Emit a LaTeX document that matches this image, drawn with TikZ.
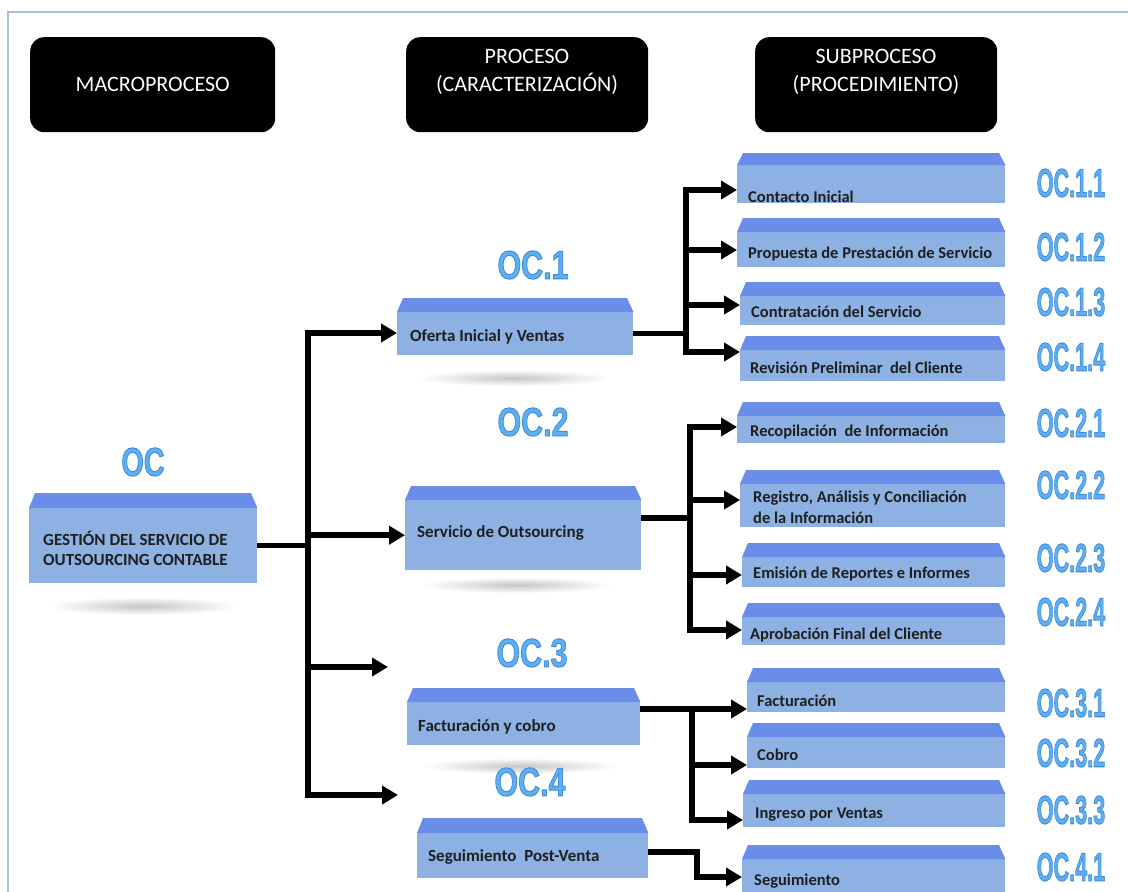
\documentclass[tikz,border=0pt]{standalone}
\usepackage{fontspec}
\setmainfont{Carlito}
\newfontfamily\codefont{Liberation Sans}
\usepackage{graphicx}
\usetikzlibrary{arrows.meta}
\definecolor{bodyc}{HTML}{8DB1E3}
\definecolor{roofc}{HTML}{6A8DE9}
\definecolor{codec}{HTML}{5AB0F0}
\definecolor{framec}{HTML}{A7BEDD}
\definecolor{txtc}{HTML}{1F1F1F}
\newcommand\outl[1]{\special{pdf:literal direct 0.28 0.54 0.86 RG 1.0 w 2 Tr}#1\special{pdf:literal direct 0 Tr}}
\tikzset{
 hdr/.style={fill=black, rounded corners=14pt, inner sep=0, anchor=north west, text=white, align=center, font=\fontsize{22}{28}\selectfont},
 hdrtxt/.style={inner sep=0, text=white, align=center, font=\fontsize{22}{28}\selectfont},
 body/.style={fill=bodyc, inner sep=0, anchor=north west},
 roof/.style={fill=roofc},
 ptext/.style={anchor=west, inner sep=0, font=\bfseries\fontsize{17}{20}\selectfont, text=txtc, align=left},
 stext/.style={anchor=west, inner sep=0, font=\bfseries\fontsize{16.5}{21}\selectfont, text=txtc, align=left},
 code/.style={inner sep=0, text=codec, font=\codefont\bfseries\fontsize{40}{40}\selectfont},
 ln/.style={line width=5.5pt},
 bus/.style={line width=5.5pt, line cap=rect},
 arr/.style={line width=5.5pt, line join=miter, -{Triangle[length=16pt,width=18pt]}},
}
% name, x1, x2, ytop, yroof, ybot
\newcommand\tribox[6]{%
 \node[body, minimum width={#3-#2}, minimum height={#6-#5}] (#1) at (#2,#5) {};
 \fill[roof] (#1.north west) -- ++(6,{#4-#5}) -- ++({#3-#2-12},0) -- (#1.north east) -- cycle;
}
\begin{document}
\begin{tikzpicture}[x=1pt,y=-1pt]
\useasboundingbox (0,0) rectangle (1128,892);
\fill[white] (0,0) rectangle (1128,892);
\draw[framec, line width=2pt] (8,892) -- (8,12) -- (1128,12);

% headers
\node[hdr, minimum width=245, minimum height=95] (h1) at (30,37) {MACROPROCESO};
\node[hdr, minimum width=242, minimum height=95] (h2) at (406,37) {};
\node[hdrtxt] (h2t) at (527,72) {PROCESO\\(CARACTERIZACIÓN)};
\node[hdr, minimum width=242, minimum height=95] (h3) at (755,37) {};
\node[hdrtxt] (h3t) at (876,72) {SUBPROCESO\\(PROCEDIMIENTO)};

% shadows
\shade[inner color=gray!45, outer color=white] (143,606) ellipse (95pt and 9pt);
\shade[inner color=gray!45, outer color=white] (514,378) ellipse (97pt and 8pt);
\shade[inner color=gray!45, outer color=white] (517,585) ellipse (95pt and 8pt);
\shade[inner color=gray!45, outer color=white] (520,766) ellipse (97pt and 8pt);

% process boxes
\tribox{oc}{29}{257}{493}{508}{583}
\tribox{oc1}{397}{633}{298}{312}{355}
\tribox{oc2}{405}{641}{486}{500}{570}
\tribox{oc3}{407}{640}{688}{702}{745}
\tribox{oc4}{417}{648}{818}{833}{878}
% subprocess boxes
\tribox{s11}{737}{1005}{153}{165}{203}
\tribox{s12}{737}{1005}{218}{232}{267}
\tribox{s13}{740}{1005}{282}{296}{325}
\tribox{s14}{740}{1005}{336}{350}{381}
\tribox{s21}{737}{1005}{402}{416}{443}
\tribox{s22}{740}{1005}{470}{484}{527}
\tribox{s23}{742}{1005}{543}{557}{587}
\tribox{s24}{742}{1005}{603}{617}{645}
\tribox{s31}{747}{1005}{668}{682}{712}
\tribox{s32}{747}{1005}{723}{737}{768}
\tribox{s33}{743}{1005}{780}{794}{827}
\tribox{s41}{742}{1005}{845}{859}{895}

% texts
\node[ptext] (toc) at (43,548) {GESTIÓN DEL SERVICIO DE\\OUTSOURCING CONTABLE};
\node[ptext] (toc1) at (410,337) {Oferta Inicial y Ventas};
\node[ptext] (toc2) at (417,533) {Servicio de Outsourcing};
\node[ptext] (toc3) at (418,727) {Facturación y cobro};
\node[ptext] (toc4) at (428,857) {Seguimiento\ \ Post-Venta};
\node[stext] (ts11) at (748,197) {Contacto Inicial};
\node[stext] (ts12) at (748,254) {Propuesta de Prestación de Servicio};
\node[stext] (ts13) at (751,312) {Contratación del Servicio};
\node[stext] (ts14) at (750,368) {Revisión Preliminar\ \ del Cliente};
\node[stext] (ts21) at (750,432) {Recopilación\ \ de Información};
\node[stext] (ts22) at (753,507) {Registro, Análisis y Conciliación\\de la Información};
\node[stext] (ts23) at (753,574) {Emisión de Reportes e Informes};
\node[stext] (ts24) at (750,635) {Aprobación Final del Cliente};
\node[stext] (ts31) at (757,701) {Facturación};
\node[stext] (ts32) at (757,755) {Cobro};
\node[stext] (ts33) at (755,815) {Ingreso por Ventas};
\node[stext] (ts41) at (754,881) {Seguimiento};

% codes
\node[code] (c0) at (143,462) {\scalebox{0.72}[1]{\outl{OC}}};
\node[code] (c1) at (533,265) {\scalebox{0.76}[1]{\outl{OC.1}}};
\node[code] (c2) at (533,422) {\scalebox{0.76}[1]{\outl{OC.2}}};
\node[code] (c3) at (532,653) {\scalebox{0.76}[1]{\outl{OC.3}}};
\node[code] (c4) at (530,782) {\scalebox{0.76}[1]{\outl{OC.4}}};
\node[code] (c11) at (1071,183) {\scalebox{0.54}[1]{\outl{OC.1.1}}};
\node[code] (c12) at (1071,247) {\scalebox{0.54}[1]{\outl{OC.1.2}}};
\node[code] (c13) at (1071,302) {\scalebox{0.54}[1]{\outl{OC.1.3}}};
\node[code] (c14) at (1071,357) {\scalebox{0.54}[1]{\outl{OC.1.4}}};
\node[code] (c21) at (1071,423) {\scalebox{0.54}[1]{\outl{OC.2.1}}};
\node[code] (c22) at (1071,485) {\scalebox{0.54}[1]{\outl{OC.2.2}}};
\node[code] (c23) at (1071,558) {\scalebox{0.54}[1]{\outl{OC.2.3}}};
\node[code] (c24) at (1071,612) {\scalebox{0.54}[1]{\outl{OC.2.4}}};
\node[code] (c31) at (1071,703) {\scalebox{0.54}[1]{\outl{OC.3.1}}};
\node[code] (c32) at (1071,753) {\scalebox{0.54}[1]{\outl{OC.3.2}}};
\node[code] (c33) at (1071,810) {\scalebox{0.54}[1]{\outl{OC.3.3}}};
\node[code] (c41) at (1071,867) {\scalebox{0.54}[1]{\outl{OC.4.1}}};

% main connectors
\coordinate (mt) at (308,333);
\coordinate (mb) at (308,795);
\coordinate (m3) at (308,667);
\coordinate (e3) at (388,667);
\coordinate (e4) at (398,795);
\draw[ln] (oc.east) -- (oc.east -| mt);
\draw[bus] (mt) -- (mb);
\draw[arr] (mt) -- (mt -| oc1.west);
\draw[arr] (oc2.west -| mt) -- (oc2.west);
\draw[arr] (m3) -- (e3);
\draw[arr] (mb) -- (e4);

% OC.1 group
\coordinate (a11) at (686,190);
\coordinate (a12) at (686,250);
\coordinate (a13) at (686,305);
\coordinate (a14) at (686,352);
\draw[ln] (oc1.east) -- (oc1.east -| a11);
\draw[bus] (a11) -- (a14);
\draw[arr] (a11) -- (a11 -| s11.west);
\draw[arr] (a12) -- (a12 -| s12.west);
\draw[arr] (a13) -- (a13 -| s13.west);
\draw[arr] (a14) -- (a14 -| s14.west);

% OC.2 group
\coordinate (o2) at (641,518);
\coordinate (a21) at (690,427);
\coordinate (a22) at (690,500);
\coordinate (a23) at (690,575);
\coordinate (a24) at (690,630);
\draw[ln] (o2) -- (o2 -| a21);
\draw[bus] (a21) -- (a24);
\draw[arr] (a21) -- (a21 -| s21.west);
\draw[arr] (a22) -- (a22 -| s22.west);
\draw[arr] (a23) -- (a23 -| s23.west);
\draw[arr] (a24) -- (a24 -| s24.west);

% OC.3 group
\coordinate (o3) at (640,709);
\coordinate (a31) at (692,709);
\coordinate (a32) at (692,765);
\coordinate (a33) at (692,820);
\draw[ln] (o3) -- (a31);
\draw[bus] (a31) -- (a33);
\draw[arr] (a31) -- (a31 -| s31.west);
\draw[arr] (a32) -- (a32 -| s32.west);
\draw[arr] (a33) -- (a33 -| s33.west);

% OC.4 group
\coordinate (o4) at (648,852);
\coordinate (a41) at (697,877);
\draw[arr] (o4) -| (a41) -- (a41 -| s41.west);
\end{tikzpicture}
\end{document}
